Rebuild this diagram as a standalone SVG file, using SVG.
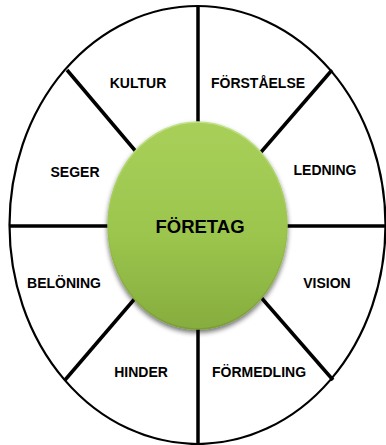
<svg xmlns="http://www.w3.org/2000/svg" width="386" height="445" viewBox="0 0 386 445">
  <style>
    .ring { fill: #ffffff; stroke: #000000; stroke-width: 2.2; }
    .divider { stroke: #000000; stroke-width: 3.5; stroke-linecap: butt; }
    .label { font-family: "Liberation Sans", Arial, sans-serif; font-weight: bold; font-size: 14px; fill: #000000; text-anchor: middle; }
    .hub-label { font-family: "Liberation Sans", Arial, sans-serif; font-weight: bold; font-size: 18.5px; fill: #000000; text-anchor: middle; }
  </style>
  <defs>
    <linearGradient id="hubFill" x1="0" y1="0" x2="0" y2="1">
      <stop offset="0" stop-color="#a8d05a"/>
      <stop offset="0.55" stop-color="#9bc54d"/>
      <stop offset="1" stop-color="#86ad3e"/>
    </linearGradient>
    <linearGradient id="hubRim" x1="0" y1="0" x2="0" y2="1">
      <stop offset="0" stop-color="#c4e28a"/>
      <stop offset="0.5" stop-color="#9cc450"/>
      <stop offset="1" stop-color="#7a9d36"/>
    </linearGradient>
    <filter id="hubShadow" x="-20%" y="-20%" width="140%" height="140%">
      <feGaussianBlur in="SourceAlpha" stdDeviation="2.5"/>
      <feOffset dx="0" dy="3" result="blur"/>
      <feComponentTransfer><feFuncA type="linear" slope="0.55"/></feComponentTransfer>
      <feMerge><feMergeNode/><feMergeNode in="SourceGraphic"/></feMerge>
    </filter>
  </defs>

  <!-- outer ring -->
  <g id="ring">
    <ellipse class="ring" cx="197.5" cy="225" rx="188" ry="219"/>
  </g>

  <!-- spokes dividing the ring into eight sectors -->
  <g id="connectors">
    <line class="divider" x1="198" y1="6" x2="198" y2="225"/>
    <line class="divider" x1="198" y1="225" x2="198" y2="444"/>
    <line class="divider" x1="9.5" y1="226" x2="386" y2="226"/>
    <line class="divider" x1="67" y1="70" x2="198" y2="225"/>
    <line class="divider" x1="332" y1="70" x2="198" y2="225"/>
    <line class="divider" x1="65" y1="380" x2="198" y2="225"/>
    <line class="divider" x1="333" y1="380" x2="198" y2="225"/>
  </g>

  <g id="kultur"><text class="label" x="138" y="88">KULTUR</text></g>
  <g id="forstaelse"><text class="label" x="258" y="88">FÖRSTÅELSE</text></g>
  <g id="ledning"><text class="label" x="325" y="175">LEDNING</text></g>
  <g id="vision"><text class="label" x="327" y="288">VISION</text></g>
  <g id="formedling"><text class="label" x="259" y="377">FÖRMEDLING</text></g>
  <g id="hinder"><text class="label" x="141" y="377">HINDER</text></g>
  <g id="belonin"><text class="label" x="64" y="288">BELÖNING</text></g>
  <g id="seger"><text class="label" x="75" y="177">SEGER</text></g>

  <!-- central hub -->
  <g id="foretag">
    <ellipse cx="197.5" cy="225.5" rx="89.5" ry="103.5" fill="url(#hubFill)" stroke="url(#hubRim)" stroke-width="1.5" filter="url(#hubShadow)"/>
    <text class="hub-label" x="200" y="233">FÖRETAG</text>
  </g>
</svg>
